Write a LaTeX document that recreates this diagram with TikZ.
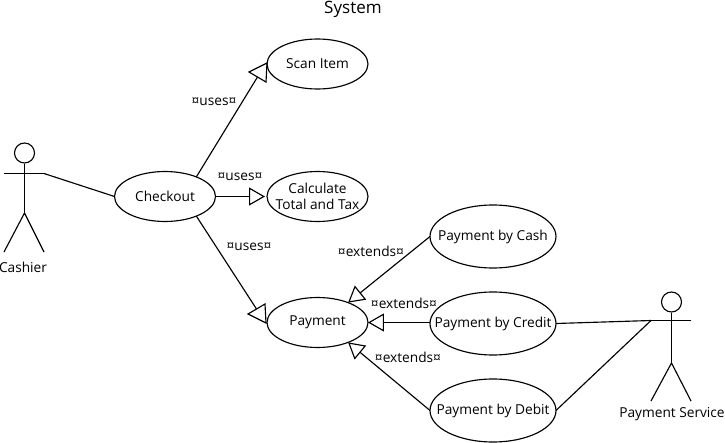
\documentclass[tikz,border=0pt]{standalone}
\usepackage{fontspec}
\setmainfont{Open Sans}
\usetikzlibrary{shapes.geometric, arrows.meta, positioning, calc}
\tikzset{
  usecase/.style={draw, ellipse, line width=0.65pt, inner xsep=-0.25cm, inner ysep=0pt, outer sep=0pt, minimum width=2.02cm, minimum height=1cm, font=\fontsize{7.8}{9.4}\selectfont, align=center},
  paycase/.style={usecase, inner xsep=-0.6cm, minimum width=2.52cm, minimum height=1.26cm},
  lbl/.style={font=\fontsize{7.8}{9.4}\selectfont, inner sep=0pt},
  head/.style={draw, circle, line width=0.65pt, inner sep=0pt, minimum size=0.4cm},
  link/.style={line width=0.65pt},
  tipped/.style={line width=0.65pt, -{Triangle[open, length=0.32cm, width=0.36cm]}}
}

\begin{document}
\begin{tikzpicture}[x=0.02cm, y=-0.02cm]
\useasboundingbox (0,0) rectangle (725,443);

% Title
\node[lbl, font=\fontsize{9.7}{11}\selectfont] (system) at (353,9) {System};

% Use cases
\node[usecase] (checkout) at (165,196.5) {Checkout};
\node[usecase] (scan) at (317.5,64) {Scan Item};
\node[usecase] (calc) at (317.5,196.5) {Calculate\\Total and Tax};
\node[usecase] (payment) at (317.5,322.5) {Payment};
\node[paycase] (cash) at (493,236.5) {Payment by Cash};
\node[paycase] (credit) at (493,323.5) {Payment by Credit};
\node[paycase] (debit) at (493,410.5) {Payment by Debit};

% Cashier
\node[head] (cashierhead) at (24.5,153) {};
\coordinate (cashierhip) at (24.5,213);
\coordinate (cashierleft) at (4,173.5);
\coordinate (cashierright) at (44,173.5);
\draw[link] (cashierhead) -- (cashierhip);
\draw[link] (cashierleft) -- (cashierright);
\draw[link] (4,252) -- (cashierhip) -- (44,252);
\node[lbl] (cashier) at (23,267.5) {Cashier};

% Payment service
\node[head] (servicehead) at (671.5,302) {};
\coordinate (servicehip) at (671.5,363);
\coordinate (serviceleft) at (651,320.5);
\coordinate (serviceright) at (691,320.5);
\draw[link] (servicehead) -- (servicehip);
\draw[link] (serviceleft) -- (serviceright);
\draw[link] (651,401) -- (servicehip) -- (691,401);
\node[lbl] (service) at (672,414.5) {Payment Service};

% Actor links
\draw[link] (cashierright) -- (checkout.west);
\draw[link] (credit.east) -- (serviceleft);
\draw[link] (debit.east) -- (serviceleft);

% Triangles that sit against the ellipse
\coordinate (scanA) at (249,72);
\coordinate (scanB) at (267,63);
\coordinate (scanC) at (266,82);
\draw[link] (scanA) -- (scanB) -- (scanC) -- cycle;
\coordinate (payA) at (248,314);
\coordinate (payB) at (265,304);
\coordinate (payC) at (266,323);
\draw[link] (payA) -- (payB) -- (payC) -- cycle;

% Uses
\draw[link] (checkout.32) -- ($(scanA)!.5!(scanC)$);
\draw[tipped, shorten >=0.04cm] (checkout.east) -- (calc.west);
\draw[link] (checkout.-32) -- ($(payA)!.5!(payB)$);
\node[lbl] (uses1) at (214,101.5) {¤uses¤};
\node[lbl] (uses2) at (240,176.5) {¤uses¤};
\node[lbl] (uses3) at (249,246.5) {¤uses¤};

% Extends
\draw[tipped] (cash.west) -- (payment.33);
\draw[tipped] (credit.west |- payment.east) -- (payment.east);
\draw[tipped] (debit.west) -- (payment.-33);
\node[lbl] (ext1) at (371,251.5) {¤extends¤};
\node[lbl] (ext2) at (404,303.5) {¤extends¤};
\node[lbl] (ext3) at (408,357.5) {¤extends¤};
\end{tikzpicture}
\end{document}
